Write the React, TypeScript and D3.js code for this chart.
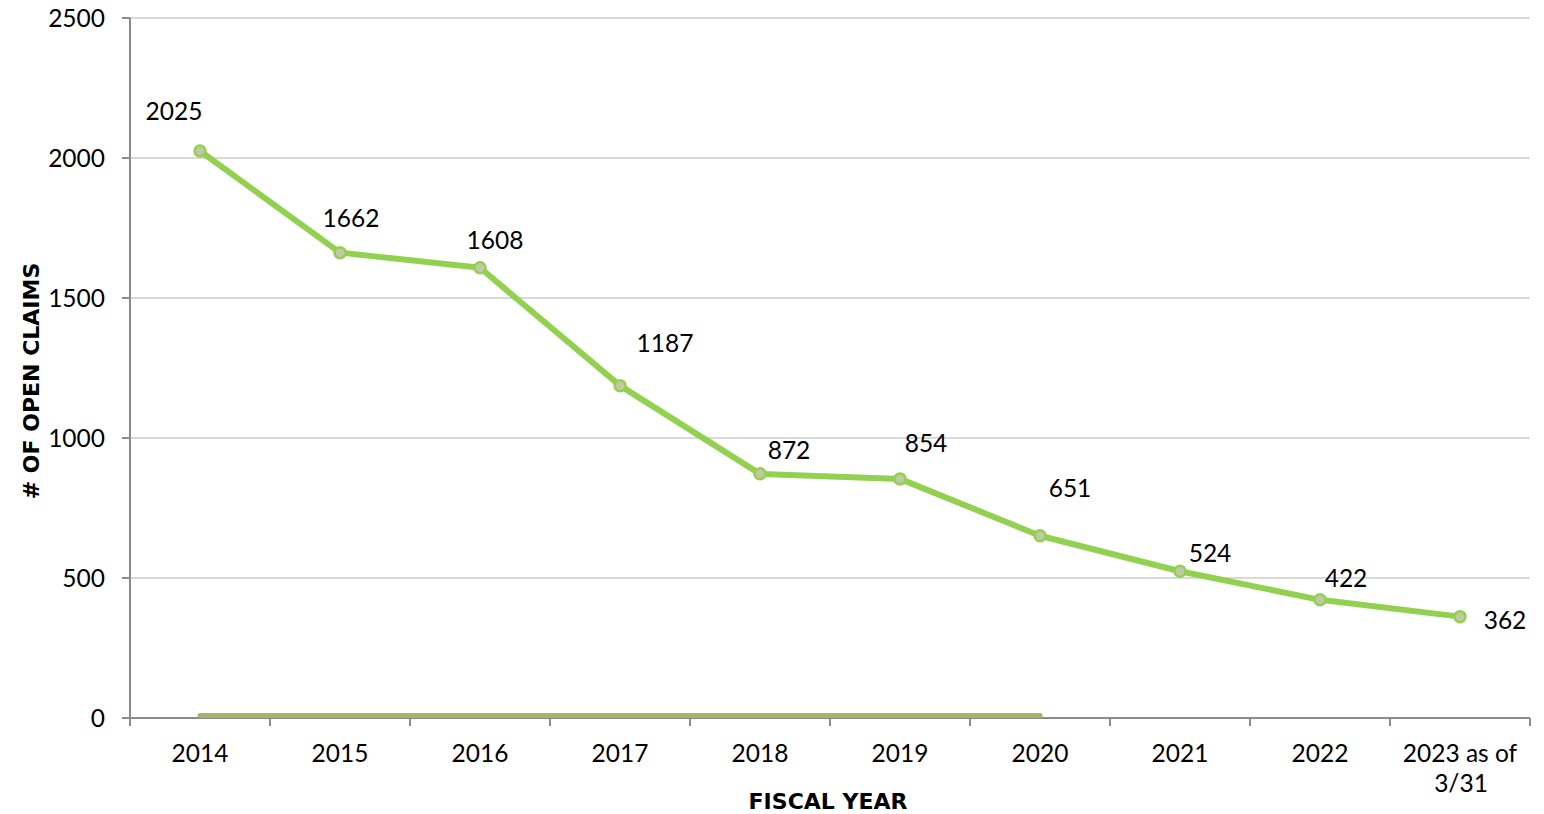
import React from "react";
import * as d3 from "d3";

const categories = ["2014", "2015", "2016", "2017", "2018", "2019", "2020", "2021", "2022", "2023 as of|3/31"];
const openClaims = [2025, 1662, 1608, 1187, 872, 854, 651, 524, 422, 362];
const zeroSeriesCats = ["2014", "2015", "2016", "2017", "2018", "2019", "2020"];
const zeroSeries = [0, 0, 0, 0, 0, 0, 0];
const yTicks = [0, 500, 1000, 1500, 2000, 2500];
// label offsets relative to point (layout, not data)
const labelDx = [-26, 11, 15, 45, 29, 26, 30, 30, 26, 45];
const labelDy = [-31, -26, -19, -34, -15, -27, -39, -9, -13, 12];

const W = 1544, H = 814;
const M = { left: 130, right: 1530, top: 18, bottom: 718 };
const FONT = "Lato, 'DejaVu Sans', sans-serif";
const TITLE_FONT = "'DejaVu Sans', sans-serif";
const FS = 24.5;

export default function App() {
  const x = d3.scaleBand<string>().domain(categories).range([M.left, M.right]);
  const cx = (c: string) => (x(c) as number) + x.bandwidth() / 2;
  const y = d3.scaleLinear().domain([0, 2500]).range([M.bottom, M.top]);
  const line = d3.line<number>().x((_, i) => cx(categories[i])).y((d) => y(d));
  const zeroLine = d3.line<number>().x((_, i) => cx(zeroSeriesCats[i])).y((d) => y(d) - 2.5);
  const xTickPos = categories.map((c) => x(c) as number).concat([M.right]);

  return (
    <svg width={W} height={H} style={{ position: "absolute", left: 0, top: 0, background: "#fff" }}>
      {yTicks.map((t) => (
        <g key={t}>
          {t > 0 && <line x1={M.left} x2={M.right} y1={y(t)} y2={y(t)} stroke="#d9d9d9" strokeWidth={2} />}
          <line x1={M.left - 8} x2={M.left} y1={y(t)} y2={y(t)} stroke="#8c8c8c" strokeWidth={2} />
          <text x={105} y={y(t) + 9} textAnchor="end" fontFamily={FONT} fontSize={FS} fill="#000">{t}</text>
        </g>
      ))}
      <line x1={M.left} x2={M.left} y1={M.top} y2={M.bottom} stroke="#8c8c8c" strokeWidth={2} />
      <line x1={M.left} x2={M.right} y1={M.bottom} y2={M.bottom} stroke="#8c8c8c" strokeWidth={2} />
      {xTickPos.map((p, i) => (
        <line key={i} x1={p} x2={p} y1={M.bottom} y2={M.bottom + 8} stroke="#8c8c8c" strokeWidth={2} />
      ))}
      {categories.map((c) => {
        const parts = c.split("|");
        return (
          <text key={c} x={cx(c)} y={762} textAnchor="middle" fontFamily={FONT} fontSize={FS} fill="#000">
            {parts.map((p, j) => (
              <tspan key={j} x={cx(c) + (j === 1 ? 1 : 0)} dy={j === 0 ? 0 : 30}>{p}</tspan>
            ))}
          </text>
        );
      })}
      <path d={zeroLine(zeroSeries) || ""} fill="none" stroke="#a5b46d" strokeWidth={5} strokeLinecap="round" />
      <path d={line(openClaims) || ""} fill="none" stroke="#92d050" strokeWidth={6} strokeLinejoin="round" />
      {openClaims.map((v, i) => (
        <circle key={i} cx={cx(categories[i])} cy={y(v)} r={5.5} fill="#c2c8a4" stroke="#92d050" strokeWidth={2.5} />
      ))}
      {openClaims.map((v, i) => (
        <text key={i} x={cx(categories[i]) + labelDx[i]} y={y(v) + labelDy[i]} textAnchor="middle"
          fontFamily={FONT} fontSize={FS} fill="#000">{v}</text>
      ))}
      <text transform={`translate(39, 381) rotate(-90)`} textAnchor="middle" fontFamily={TITLE_FONT}
        fontWeight="bold" fontSize={22} fill="#000"># OF OPEN CLAIMS</text>
      <text x={828} y={809} textAnchor="middle" fontFamily={TITLE_FONT} fontWeight="bold" fontSize={22} fill="#000">FISCAL YEAR</text>
    </svg>
  );
}
